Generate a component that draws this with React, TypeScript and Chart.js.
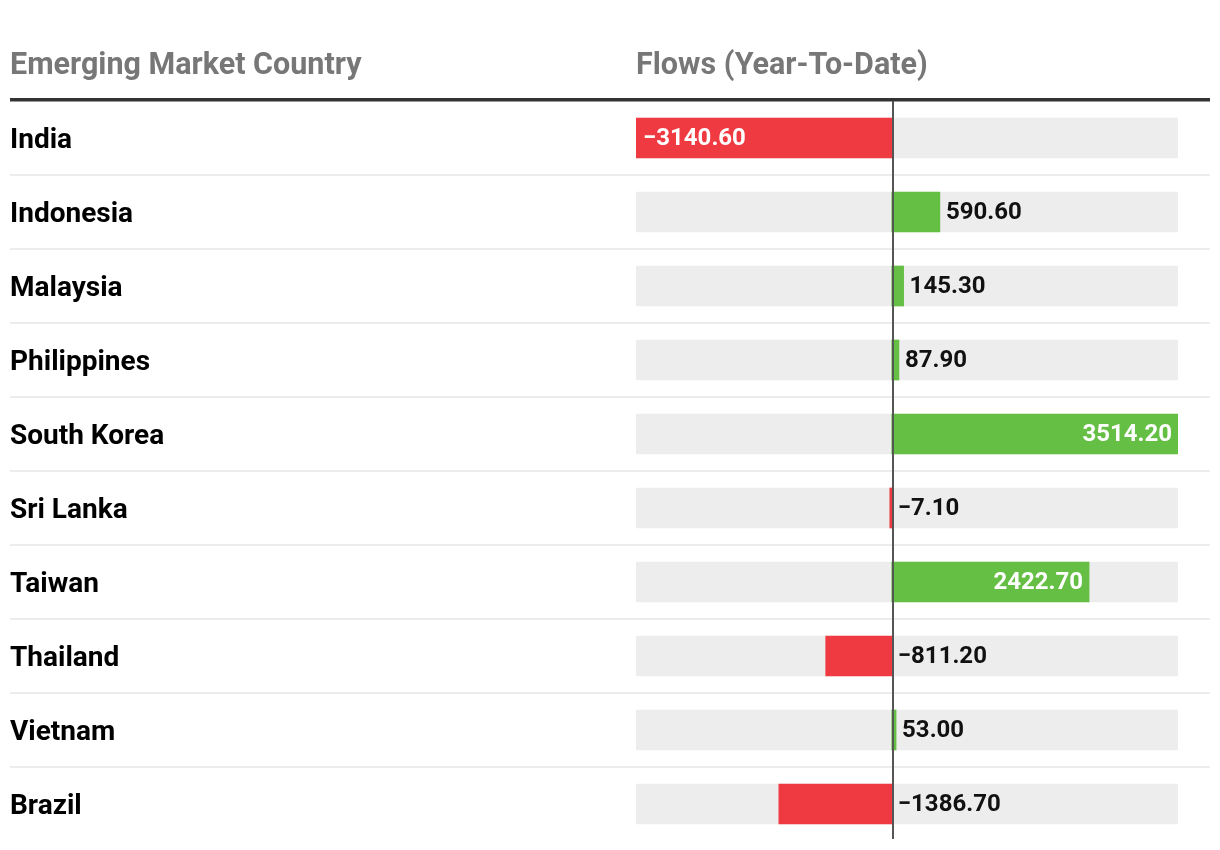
import React, { useEffect, useRef } from "react";
import { Chart, registerables } from "chart.js";

Chart.register(...registerables);

const countries = [
  "India",
  "Indonesia",
  "Malaysia",
  "Philippines",
  "South Korea",
  "Sri Lanka",
  "Taiwan",
  "Thailand",
  "Vietnam",
  "Brazil",
];
const flows = [-3140.6, 590.6, 145.3, 87.9, 3514.2, -7.1, 2422.7, -811.2, 53.0, -1386.7];
const headerCountry = "Emerging Market Country";
const headerFlows = "Flows (Year-To-Date)";
const trackMin = -3140.6;
const trackMax = 3514.2;

const RED = "#ef3a42";
const GREEN = "#66bf45";
const TRACK = "#ededed";
const FONT = "Roboto, 'Liberation Sans', sans-serif";

function fmt(v: number): string {
  const s = Math.abs(v).toFixed(2);
  return v < 0 ? "\u2212" + s : s;
}

const tablePlugin = {
  id: "tableDecor",
  afterDatasetsDraw(chart: any) {
    const ctx = chart.ctx as CanvasRenderingContext2D;
    const x = chart.scales.x;
    const y = chart.scales.y;
    const area = chart.chartArea;
    ctx.save();

    // headers
    ctx.font = `bold 30.5px ${FONT}`;
    ctx.fillStyle = "#777777";
    ctx.textBaseline = "alphabetic";
    ctx.textAlign = "left";
    ctx.fillText(headerCountry, 10, 74);
    ctx.fillText(headerFlows, area.left, 74);

    // row separators
    ctx.strokeStyle = "#ececec";
    ctx.lineWidth = 2;
    for (let i = 1; i < countries.length; i++) {
      const yy = Math.round((y.getPixelForValue(i - 1) + y.getPixelForValue(i)) / 2);
      ctx.beginPath();
      ctx.moveTo(10, yy);
      ctx.lineTo(1210, yy);
      ctx.stroke();
    }

    // thick header rule
    ctx.fillStyle = "#333333";
    ctx.fillRect(10, 98, 1200, 3.5);

    // zero line
    const zx = x.getPixelForValue(0);
    ctx.fillStyle = "#555555";
    ctx.fillRect(Math.round(zx), 101, 2, 738);

    // value labels
    ctx.font = `bold 24px ${FONT}`;
    ctx.textBaseline = "middle";
    const meta = chart.getDatasetMeta(0);
    flows.forEach((v, i) => {
      const bar = meta.data[i];
      const cy = bar.y;
      const txt = fmt(v);
      const w = ctx.measureText(txt).width;
      const end = x.getPixelForValue(v);
      const len = Math.abs(end - zx);
      const inside = w + 24 < len;
      if (inside) {
        ctx.fillStyle = "#ffffff";
        if (v >= 0) {
          ctx.textAlign = "right";
          ctx.fillText(txt, end - 6, cy + 1);
        } else {
          ctx.textAlign = "left";
          ctx.fillText(txt, end + 7, cy + 1);
        }
      } else {
        ctx.fillStyle = "#111111";
        ctx.textAlign = "left";
        if (v >= 0) {
          ctx.fillText(txt, end + 6, cy + 1);
        } else {
          ctx.fillText(txt, zx + 6, cy + 1);
        }
      }
    });
    ctx.restore();
  },
};

export default function App() {
  const ref = useRef<HTMLCanvasElement | null>(null);

  useEffect(() => {
    document.body.style.margin = "0";
    const canvas = ref.current;
    if (!canvas) return;
    const chart = new Chart(canvas, {
      type: "bar",
      data: {
        labels: countries,
        datasets: [
          {
            label: "Flows",
            data: flows,
            backgroundColor: flows.map((v) => (v < 0 ? RED : GREEN)),
            barThickness: 40,
            grouped: false,
            minBarLength: 2,
            borderWidth: 0,
            order: 0,
          } as any,
          {
            label: "Track",
            data: countries.map(() => [trackMin, trackMax]),
            backgroundColor: TRACK,
            barThickness: 40,
            grouped: false,
            borderWidth: 0,
            order: 1,
          } as any,
        ],
      },
      options: {
        indexAxis: "y",
        responsive: false,
        animation: false,
        events: [],
        layout: { padding: { left: 10, right: 42, top: 101, bottom: 9 } },
        plugins: {
          legend: { display: false },
          tooltip: { enabled: false },
          title: { display: false },
        },
        scales: {
          x: {
            display: false,
            min: trackMin,
            max: trackMax,
          },
          y: {
            position: "left",
            grid: { display: false },
            border: { display: false },
            ticks: {
              crossAlign: "far",
              padding: 0,
              labelOffset: 3,
              color: "#000000",
              font: { family: FONT, size: 28, weight: "bold" },
            },
            afterFit(scale: any) {
              scale.width = 626;
              scale.paddingTop = 0;
              scale.paddingBottom = 0;
            },
          },
        },
      } as any,
      plugins: [tablePlugin],
    });
    return () => chart.destroy();
  }, []);

  return (
    <div style={{ width: 1220, height: 850 }}>
      <canvas ref={ref} width={1220} height={850} style={{ display: "block" }} />
    </div>
  );
}
